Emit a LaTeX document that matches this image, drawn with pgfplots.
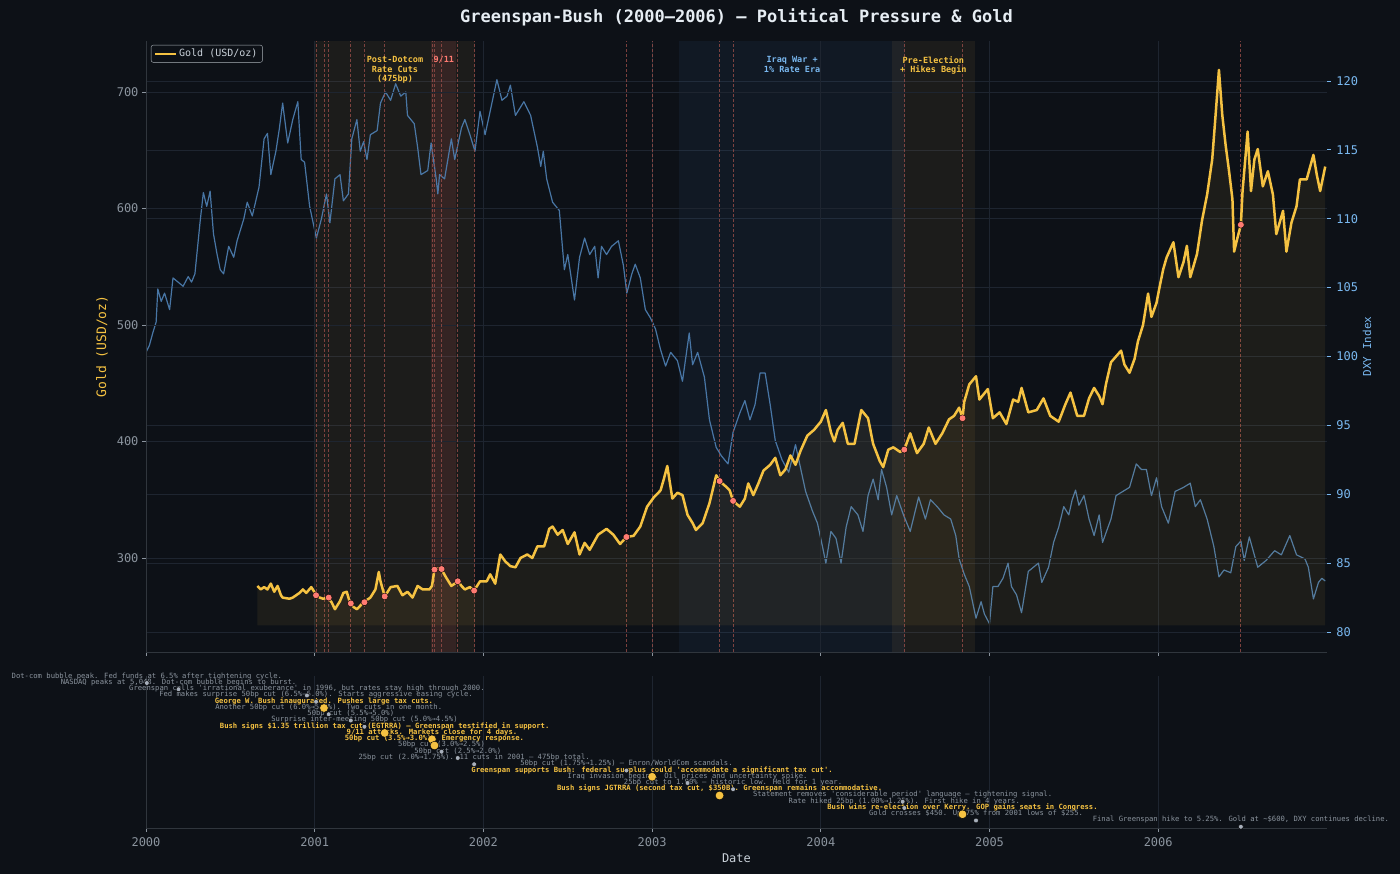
\documentclass[border=0pt]{standalone}
\usepackage{fontspec}
\setmainfont{DejaVu Sans Mono}
\usepackage{pgfplots}
\pgfplotsset{compat=1.18}
\usepackage{pgfplotstable}

\definecolor{bg}{HTML}{0D1117}
\definecolor{gridc}{HTML}{1E2530}
\definecolor{spine}{HTML}{30363D}
\definecolor{tickc}{HTML}{8B949E}
\definecolor{goldc}{HTML}{F5C242}
\definecolor{dxyc}{HTML}{4F81B5}
\definecolor{dxylab}{HTML}{79B8F0}
\definecolor{redc}{HTML}{FF7B72}
\definecolor{vline}{HTML}{A0504A}
\definecolor{titlec}{HTML}{E6EDF3}
\definecolor{dotgray}{HTML}{A8B0BC}
\definecolor{txtgray}{HTML}{8B949E}
\definecolor{legtext}{HTML}{C9D1D9}
\definecolor{shadeY}{HTML}{D4A24C}
\definecolor{shadeR}{HTML}{FF6B6B}
\definecolor{shadeB}{HTML}{4A90D9}

\newcommand\q{\textquotesingle}

\pgfplotstableread{
x y
2000.66 276
2000.68 273
2000.70 275
2000.72 273
2000.74 278
2000.76 271
2000.78 276
2000.80 268
2000.81 266
2000.85 265
2000.87 266
2000.89 268
2000.91 270
2000.93 273
2000.95 270
2000.98 275
2001.01 268
2001.03 266
2001.05 265
2001.08 266
2001.10 262
2001.12 256
2001.15 263
2001.17 270
2001.19 271
2001.21 261
2001.23 258
2001.25 256
2001.27 259
2001.29 262
2001.31 264
2001.33 266
2001.36 273
2001.38 288
2001.39 280
2001.415 267
2001.45 275
2001.49 276
2001.52 268
2001.55 271
2001.58 266
2001.61 276
2001.64 273
2001.68 273
2001.695 276
2001.71 290
2001.73 291
2001.75 290.5
2001.78 283
2001.81 276
2001.85 280
2001.87 276
2001.89 273
2001.92 275
2001.945 272
2001.98 280
2002.02 280
2002.04 286
2002.07 278
2002.10 303
2002.13 297
2002.16 293
2002.19 292
2002.22 300
2002.26 303
2002.29 300
2002.32 310
2002.36 310
2002.375 317
2002.39 325
2002.41 327
2002.44 320
2002.47 324
2002.50 312
2002.54 322
2002.57 303
2002.60 313
2002.63 307
2002.68 320
2002.73 325
2002.77 320
2002.81 312
2002.848 318
2002.89 319
2002.93 327
2002.97 344
2003.01 352
2003.05 358
2003.07 368
2003.09 379
2003.12 351
2003.15 356
2003.18 354
2003.21 337
2003.24 330
2003.26 324
2003.30 330
2003.34 347
2003.38 371
2003.40 366
2003.44 361
2003.46 358
2003.48 349
2003.52 344
2003.55 351
2003.57 364
2003.60 354
2003.63 364
2003.66 375
2003.70 380
2003.73 386
2003.76 371
2003.79 376
2003.82 388
2003.85 380
2003.88 392
2003.92 405
2003.96 410
2004.00 417
2004.03 427
2004.06 408
2004.08 400
2004.10 410
2004.13 416
2004.16 398
2004.20 398
2004.24 427
2004.28 420
2004.31 398
2004.35 383
2004.37 378
2004.40 393
2004.43 395
2004.47 391
2004.495 393
2004.53 407
2004.57 390
2004.61 398
2004.64 412
2004.68 398
2004.72 407
2004.76 419
2004.79 422
2004.82 429
2004.84 420
2004.85 434
2004.88 449
2004.92 456
2004.94 436
2004.99 445
2005.02 420
2005.06 425
2005.10 415
2005.14 436
2005.17 434
2005.19 446
2005.23 425
2005.28 427
2005.32 437
2005.36 422
2005.41 417
2005.45 432
2005.48 442
2005.52 422
2005.56 422
2005.59 437
2005.62 446
2005.65 439
2005.67 432
2005.69 449
2005.72 468
2005.75 473
2005.78 478
2005.80 466
2005.83 459
2005.86 471
2005.88 486
2005.91 500
2005.94 527
2005.96 507
2005.99 519
2006.01 534
2006.03 548
2006.05 558
2006.09 571
2006.12 541
2006.15 554
2006.17 568
2006.19 541
2006.21 551
2006.23 561
2006.26 590
2006.29 612
2006.32 642
2006.34 680
2006.36 719
2006.38 680
2006.40 654
2006.42 632
2006.44 608
2006.45 563
2006.47 575
2006.49 586
2006.50 615
2006.53 666
2006.55 615
2006.57 642
2006.59 651
2006.62 619
2006.65 632
2006.68 612
2006.70 578
2006.74 598
2006.76 563
2006.79 588
2006.82 602
2006.84 625
2006.88 625
2006.92 646
2006.94 629
2006.96 615
2006.99 636
}\golddata

\pgfplotstableread{
x y
2006.99 242.25
2000.66 242.25
}\goldbase

\pgfplotstablevertcat{\goldarea}{\golddata}
\pgfplotstablevertcat{\goldarea}{\goldbase}

\pgfplotstableread{
x y
2000.00 100.3
2000.02 100.8
2000.04 101.7
2000.06 102.5
2000.07 104.9
2000.09 104.0
2000.11 104.6
2000.14 103.4
2000.16 105.7
2000.19 105.4
2000.22 105.1
2000.25 105.8
2000.27 105.4
2000.29 106.0
2000.32 109.7
2000.34 111.9
2000.36 110.9
2000.38 112.0
2000.40 108.9
2000.42 107.5
2000.44 106.3
2000.46 106.0
2000.49 108.0
2000.52 107.2
2000.54 108.4
2000.56 109.2
2000.58 110.0
2000.60 111.2
2000.63 110.2
2000.67 112.3
2000.70 115.8
2000.72 116.2
2000.74 113.2
2000.77 114.9
2000.79 116.5
2000.81 118.4
2000.84 115.5
2000.87 117.2
2000.90 118.5
2000.92 114.3
2000.94 114.1
2000.97 110.9
2001.01 108.6
2001.04 110.0
2001.07 111.8
2001.09 109.7
2001.12 112.9
2001.15 113.2
2001.17 111.3
2001.20 111.8
2001.22 115.8
2001.25 117.2
2001.27 114.9
2001.29 115.6
2001.31 114.3
2001.33 116.1
2001.37 116.4
2001.39 118.4
2001.42 119.2
2001.45 118.6
2001.48 119.8
2001.51 118.9
2001.54 119.2
2001.55 117.5
2001.59 116.9
2001.61 115.2
2001.63 113.2
2001.67 113.5
2001.69 115.5
2001.72 112.9
2001.73 111.8
2001.74 113.2
2001.77 112.9
2001.81 115.8
2001.83 114.3
2001.87 116.6
2001.89 117.2
2001.92 116.1
2001.95 114.9
2001.98 117.8
2002.01 116.1
2002.04 117.8
2002.08 120.1
2002.11 118.6
2002.14 118.9
2002.16 119.7
2002.19 117.5
2002.24 118.5
2002.28 117.5
2002.32 115.2
2002.34 113.8
2002.355 114.9
2002.375 112.9
2002.41 111.2
2002.45 110.6
2002.48 106.3
2002.50 107.4
2002.54 104.1
2002.57 107.2
2002.60 108.6
2002.63 107.4
2002.66 108.0
2002.68 105.7
2002.70 108.0
2002.73 107.4
2002.76 108.0
2002.80 108.4
2002.83 106.6
2002.85 104.6
2002.88 106.0
2002.90 106.7
2002.93 105.7
2002.96 103.4
2002.99 102.8
2003.02 102.0
2003.05 100.5
2003.08 99.3
2003.11 100.3
2003.15 99.7
2003.18 98.2
2003.22 101.7
2003.24 99.4
2003.27 100.3
2003.31 98.5
2003.34 95.4
2003.38 93.4
2003.41 92.8
2003.45 92.2
2003.48 94.5
2003.52 95.9
2003.55 96.8
2003.58 95.4
2003.61 96.5
2003.64 98.8
2003.67 98.8
2003.70 96.5
2003.73 93.9
2003.77 92.5
2003.81 91.6
2003.85 93.6
2003.88 91.9
2003.91 90.2
2003.95 88.8
2003.98 87.9
2004.01 86.2
2004.03 85.0
2004.06 87.3
2004.09 86.8
2004.12 85.0
2004.15 87.6
2004.18 89.1
2004.22 88.5
2004.25 87.3
2004.28 89.9
2004.31 91.1
2004.34 89.6
2004.36 91.8
2004.39 90.5
2004.42 88.5
2004.45 89.9
2004.49 88.5
2004.53 87.3
2004.58 89.8
2004.62 88.2
2004.65 89.6
2004.69 89.1
2004.73 88.5
2004.77 88.2
2004.80 87.0
2004.82 85.3
2004.85 84.2
2004.88 83.3
2004.92 81.0
2004.95 82.2
2004.97 81.3
2005.00 80.6
2005.02 83.3
2005.05 83.3
2005.08 83.9
2005.11 85.0
2005.13 83.3
2005.16 82.7
2005.19 81.4
2005.23 84.4
2005.26 84.7
2005.29 85.0
2005.31 83.6
2005.35 84.7
2005.38 86.5
2005.41 87.6
2005.44 89.1
2005.47 88.5
2005.49 89.6
2005.51 90.3
2005.53 89.2
2005.56 89.9
2005.59 88.2
2005.62 87.0
2005.65 88.5
2005.67 86.5
2005.72 88.2
2005.75 89.9
2005.79 90.2
2005.83 90.5
2005.87 92.2
2005.90 91.8
2005.93 91.8
2005.96 89.9
2005.99 91.2
2006.02 89.1
2006.06 87.9
2006.10 90.2
2006.15 90.5
2006.19 90.8
2006.22 89.1
2006.25 89.6
2006.29 88.2
2006.33 86.2
2006.36 84.0
2006.39 84.5
2006.43 84.3
2006.46 86.2
2006.49 86.6
2006.51 85.2
2006.54 86.9
2006.59 84.7
2006.64 85.2
2006.69 85.9
2006.73 85.6
2006.78 87.0
2006.82 85.6
2006.87 85.3
2006.89 84.7
2006.92 82.4
2006.95 83.6
2006.97 83.9
2006.99 83.7
}\dxydata

\pgfplotstableread{
x y
2000.005 0
2000.193 -1
2000.954 -2
2001.008 -3
2001.083 -5
2001.214 -6
2001.295 -7
2001.752 -11
2001.848 -12
2001.945 -13
2002.848 -14
2003.21 -16
2003.48 -17
2004.485 -19
2004.495 -20
2004.92 -22
2006.49 -23
}\graydots

\pgfplotstableread{
x y
2001.055 -4
2001.415 -8
2001.695 -9
2001.71 -10
2003.00 -15
2003.40 -18
2004.84 -21
}\golddots

\tikzset{
  evg/.style={font=\fontsize{7.2}{8}\selectfont, text=txtgray, inner sep=0pt, yshift=6.9pt},
  evy/.style={font=\fontsize{7.2}{8}\selectfont\bfseries, text=goldc, inner sep=0pt, yshift=6.9pt},
  reglab/.style={font=\fontsize{8.5}{9.8}\selectfont\bfseries, align=center, inner sep=0pt, anchor=north}
}

\begin{document}
\begin{tikzpicture}
\fill[bg] (0pt,0pt) rectangle (1400pt,874pt);
\useasboundingbox (0pt,0pt) rectangle (1400pt,874pt);

% ---------- main panel: DXY (right axis), drawn underneath ----------
\begin{axis}[
  at={(146pt,222pt)}, anchor=south west,
  scale only axis, width=1181pt, height=611pt,
  xmin=2000, xmax=2007, ymin=78.548, ymax=122.904,
  hide x axis,
  axis y line*=right,
  y axis line style={draw=none},
  ytick={80,85,90,95,100,105,110,115,120},
  tick align=outside, major tick length=4pt,
  ytick style={dxylab, line width=0.8pt},
  yticklabel style={text=dxylab, font=\fontsize{12}{14}\selectfont, xshift=2pt},
  /pgf/number format/assume math mode=true,
  ymajorgrids, major grid style={gridc, line width=0.7pt},
  every axis y label/.style={at={(axis description cs:1.0339,0.5)}, rotate=90, anchor=center},
  ylabel={DXY Index},
  ylabel style={text=dxylab, font=\fontsize{11}{13}\selectfont},
]
% shaded eras
\addplot[draw=none, fill=shadeY, fill opacity=0.08] coordinates {(2001.0,78.548) (2001.0,122.904) (2001.95,122.904) (2001.95,78.548)};
\addplot[draw=none, fill=shadeR, fill opacity=0.11] coordinates {(2001.69,78.548) (2001.69,122.904) (2001.84,122.904) (2001.84,78.548)};
\addplot[draw=none, fill=shadeB, fill opacity=0.07] coordinates {(2003.16,78.548) (2003.16,122.904) (2004.50,122.904) (2004.50,78.548)};
\addplot[draw=none, fill=shadeY, fill opacity=0.08] coordinates {(2004.42,78.548) (2004.42,122.904) (2004.915,122.904) (2004.915,78.548)};
\addplot[dxyc, line width=1.2pt, line join=round, mark=none, opacity=0.9] table[x=x,y=y] {\dxydata};
\end{axis}

% ---------- main panel: gold (left axis), on top ----------
\begin{axis}[
  at={(146pt,222pt)}, anchor=south west,
  scale only axis, width=1181pt, height=611pt,
  xmin=2000, xmax=2007, ymin=219.3, ymax=743.8,
  axis x line*=bottom, axis y line*=left,
  axis line style={spine, line width=0.8pt},
  xtick={2000,2001,2002,2003,2004,2005,2006}, xticklabels={},
  ytick={300,400,500,600,700},
  tick align=outside, major tick length=4pt,
  tick style={tickc, line width=0.8pt},
  yticklabel style={text=tickc, font=\fontsize{12}{14}\selectfont},
  /pgf/number format/assume math mode=true,
  grid=major, major grid style={gridc, line width=0.7pt},
  every axis y label/.style={at={(axis description cs:-0.0373,0.5)}, rotate=90, anchor=center},
  ylabel={Gold (USD/oz)},
  ylabel style={text=goldc, font=\fontsize{13}{15}\selectfont},
  title={Greenspan-Bush (2000–2006) — Political Pressure \& Gold},
  every axis title/.style={at={(axis description cs:0.5,1.0393)}, anchor=center},
  title style={text=titlec, font=\fontsize{17}{20}\selectfont\bfseries},
  legend style={at={(0.0042,0.9935)}, anchor=north west, fill=bg, draw=legtext!85!black,
    rounded corners=2pt, text=legtext, font=\fontsize{10}{12}\selectfont,
    inner xsep=3pt, inner ysep=2pt},
  legend cell align=left,
  legend image code/.code={\draw[#1, line width=2pt] (0pt,0pt) -- (21pt,0pt);},
]
% event lines
\pgfplotsinvokeforeach{2001.008,2001.055,2001.083,2001.214,2001.295,2001.415,2001.695,2001.71,2001.752,2001.848,2001.945,2002.848,2003.0,2003.40,2003.48,2004.495,2004.84,2006.49}{
  \addplot[forget plot, mark=none, vline, line width=0.8pt, dash pattern=on 3pt off 2pt, opacity=0.75] coordinates {(#1,219.3) (#1,743.8)};
}
% gold area and line
\addplot[forget plot, draw=none, fill=goldc, fill opacity=0.07] table[x=x,y=y] {\goldarea};
\addplot[goldc, line width=2.5pt, line join=round, mark=none] table[x=x,y=y] {\golddata};
\addlegendentry{Gold (USD/oz)}
\addplot[forget plot, only marks, mark=*, mark size=3.4pt, mark options={draw=none, fill=redc}] coordinates {
(2001.008,268) (2001.083,266) (2001.214,261) (2001.295,262) (2001.415,267) (2001.71,290) (2001.752,290.5)
(2001.848,280) (2001.945,272) (2002.848,318) (2003.40,366) (2003.48,349) (2004.495,393) (2004.84,420) (2006.49,586)};
% era labels
\node[reglab, text=goldc] at (axis cs:2001.476,731) {Post-Dotcom\\Rate Cuts\\(475bp)};
\node[reglab, text=redc] at (axis cs:2001.765,731) {9/11};
\node[reglab, text=dxylab] at (axis cs:2003.83,731) {Iraq War +\\1\% Rate Era};
\node[reglab, text=goldc] at (axis cs:2004.667,731) {Pre-Election\\+ Hikes Begin};
\end{axis}

% ---------- timeline panel ----------
\begin{axis}[
  at={(146pt,46pt)}, anchor=south west,
  scale only axis, width=1181pt, height=152pt,
  xmin=2000, xmax=2007, ymin=-23.2, ymax=1.12,
  axis x line*=bottom, axis y line*=left,
  axis line style={spine, line width=0.8pt},
  xtick={2000,2001,2002,2003,2004,2005,2006},
  xticklabels={2000,2001,2002,2003,2004,2005,2006},
  ytick=\empty,
  tick align=outside, major tick length=4pt,
  tick style={tickc, line width=0.8pt},
  xticklabel style={text=tickc, font=\fontsize{12}{14}\selectfont, yshift=-2pt},
  xmajorgrids, major grid style={gridc, line width=0.7pt},
  every axis x label/.style={at={(axis description cs:0.5,-0.197)}, anchor=center},
  xlabel={Date},
  xlabel style={text=legtext, font=\fontsize{12}{14}\selectfont},
  clip=false,
]
\node[evg] at (axis cs:2000.005,0) {Dot-com bubble peak. Fed funds at 6.5\% after tightening cycle.};
\node[evg] at (axis cs:2000.193,-1) {NASDAQ peaks at 5,048. Dot-com bubble begins to burst.};
\node[evg] at (axis cs:2000.954,-2) {Greenspan calls \q irrational exuberance\q{} in 1996, but rates stay high through 2000.};
\node[evg] at (axis cs:2001.008,-3) {Fed makes surprise 50bp cut (6.5\%→6.0\%). Starts aggressive easing cycle.};
\node[evy] at (axis cs:2001.055,-4) {George W. Bush inaugurated. Pushes large tax cuts.};
\node[evg] at (axis cs:2001.083,-5) {Another 50bp cut (6.0\%→5.5\%). Two cuts in one month.};
\node[evg] at (axis cs:2001.214,-6) {50bp cut (5.5\%→5.0\%)};
\node[evg] at (axis cs:2001.295,-7) {Surprise inter-meeting 50bp cut (5.0\%→4.5\%)};
\node[evy] at (axis cs:2001.415,-8) {Bush signs \$1.35 trillion tax cut (EGTRRA) — Greenspan testified in support.};
\node[evy] at (axis cs:2001.695,-9) {9/11 attacks. Markets close for 4 days.};
\node[evy] at (axis cs:2001.71,-10) {50bp cut (3.5\%→3.0\%). Emergency response.};
\node[evg] at (axis cs:2001.752,-11) {50bp cut (3.0\%→2.5\%)};
\node[evg] at (axis cs:2001.848,-12) {50bp cut (2.5\%→2.0\%)};
\node[evg] at (axis cs:2001.945,-13) {25bp cut (2.0\%→1.75\%). 11 cuts in 2001 — 475bp total.};
\node[evg] at (axis cs:2002.848,-14) {50bp cut (1.75\%→1.25\%) — Enron/WorldCom scandals.};
\node[evy] at (axis cs:2003.00,-15) {Greenspan supports Bush: federal surplus could \q accommodate a significant tax cut\q.};
\node[evg] at (axis cs:2003.21,-16) {Iraq invasion begins. Oil prices and uncertainty spike.};
\node[evg] at (axis cs:2003.48,-17) {25bp cut to 1.00\% — historic low. Held for 1 year.};
\node[evy] at (axis cs:2003.40,-18) {Bush signs JGTRRA (second tax cut, \$350B). Greenspan remains accommodative.};
\node[evg] at (axis cs:2004.485,-19) {Statement removes \q considerable period\q{} language — tightening signal.};
\node[evg] at (axis cs:2004.495,-20) {Rate hiked 25bp (1.00\%→1.25\%). First hike in 4 years.};
\node[evy] at (axis cs:2004.84,-21) {Bush wins re-election over Kerry. GOP gains seats in Congress.};
\node[evg] at (axis cs:2004.92,-22) {Gold crosses \$450. Up 75\% from 2001 lows of \$255.};
\node[evg] at (axis cs:2006.49,-23) {Final Greenspan hike to 5.25\%. Gold at \textasciitilde\$600, DXY continues decline.};
\addplot[only marks, mark=*, mark size=2.4pt, mark options={draw=none, fill=dotgray}] table[x=x,y=y] {\graydots};
\addplot[only marks, mark=*, mark size=4.3pt, mark options={draw=none, fill=goldc}] table[x=x,y=y] {\golddots};
\end{axis}
\end{tikzpicture}
\end{document}
